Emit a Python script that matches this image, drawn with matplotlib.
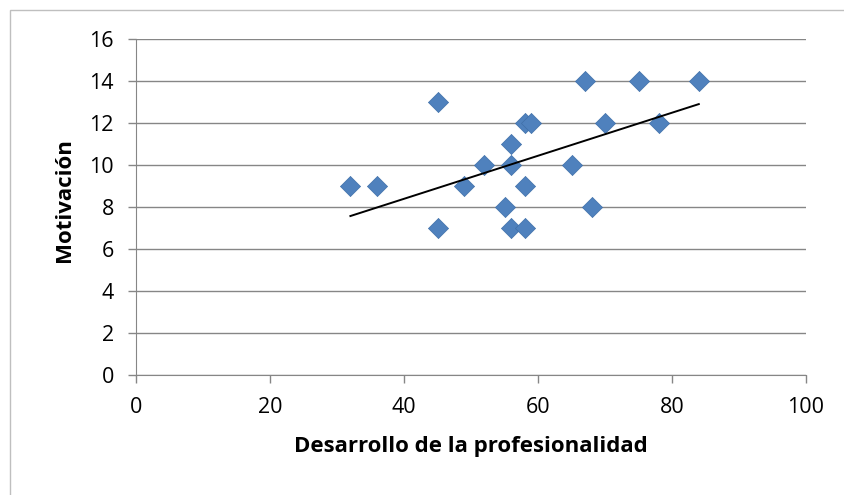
import matplotlib.pyplot as plt
from matplotlib.patches import Rectangle

# Desarrollo de la profesionalidad vs. motivación
desarrollo = [32, 36, 45, 45, 49, 52, 55, 56, 56, 56, 58, 59, 58, 58, 65, 67, 68, 70, 75, 78, 84]
motivacion = [9, 9, 13, 7, 9, 10, 8, 11, 10, 7, 12, 12, 9, 7, 10, 14, 8, 12, 14, 12, 14]

# linear trend line end points
tendencia_x = [32, 84]
tendencia_y = [7.57, 12.9]

x_ticks = [0, 20, 40, 60, 80, 100]
y_ticks = [0, 2, 4, 6, 8, 10, 12, 14, 16]

plt.rcParams["font.family"] = ["Open Sans", "DejaVu Sans"]

fig = plt.figure(figsize=(8.44, 4.95), dpi=100)
ax = fig.add_axes([136 / 844, 1 - 375 / 495, 670 / 844, 336 / 495])

# outer chart frame
fig.patches.append(Rectangle((10 / 844, -0.1), 1.0, 1 - 10 / 495 + 0.1,
                             transform=fig.transFigure, fill=False,
                             edgecolor="#bfbfbf", linewidth=1))

ax.scatter(desarrollo, motivacion, marker="D", s=105, color="#4f81bd",
           edgecolors="#3f6fa8", linewidths=0.5, zorder=3)
ax.plot(tendencia_x, tendencia_y, color="black", linewidth=1.4, zorder=4)

ax.set_xlim(0, 100)
ax.set_ylim(0, 16)
ax.set_xticks(x_ticks)
ax.set_yticks(y_ticks)
ax.tick_params(labelsize=15.5, length=6, color="#868686", width=1)
ax.tick_params(axis="y", pad=10)
ax.tick_params(axis="x", pad=10)
ax.yaxis.grid(True, color="#868686", linewidth=1)
ax.set_axisbelow(True)
for side in ["top", "right"]:
    ax.spines[side].set_visible(False)
for side in ["left", "bottom"]:
    ax.spines[side].set_color("#868686")

ax.set_xlabel("Desarrollo de la profesionalidad", fontsize=16, fontweight="bold", labelpad=13)
ax.set_ylabel("Motivación", fontsize=16, fontweight="bold")
ax.yaxis.set_label_coords(-0.091, 0.52)

fig.savefig("out.png", dpi=100)
